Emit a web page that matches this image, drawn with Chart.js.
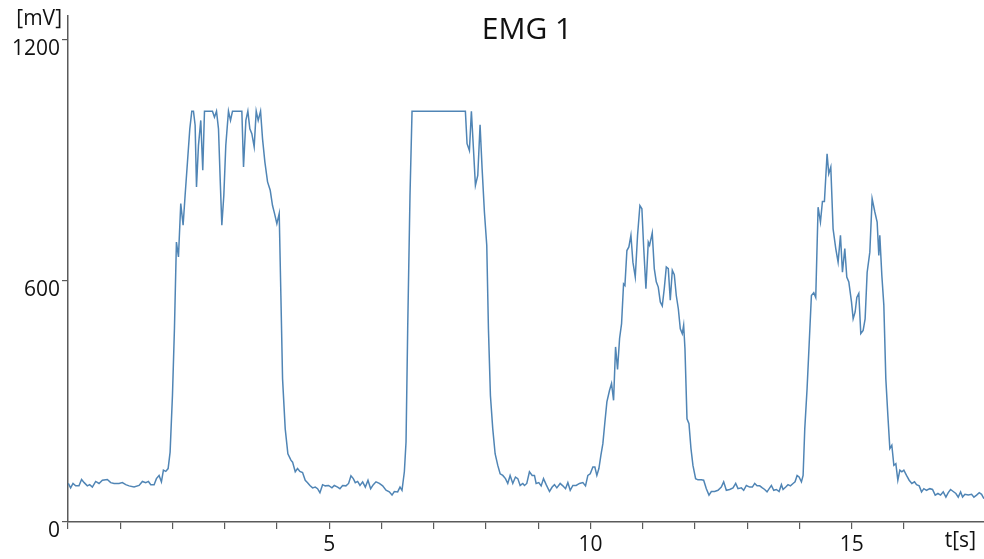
<!DOCTYPE html>
<html>
<head>
<meta charset="utf-8">
<script src="https://cdn.jsdelivr.net/npm/chart.js@4/dist/chart.umd.min.js"></script>
<style>
  body { margin: 0; background: #fff; }
  #wrap { width: 984px; height: 559px; }
</style>
</head>
<body>
<div id="wrap"><canvas id="emgChart" width="984" height="559"></canvas></div>
<script>
// EMG 1 - samples (time in s, amplitude in mV)
const chartTitle = 'EMG 1';
const yUnit = '[mV]';
const xUnit = 't[s]';

const yTicks = [0, 600, 1200];
const xTicks = [0, 1, 2, 3, 4, 5, 6, 7, 8, 9, 10, 11, 12, 13, 14, 15, 16];
const xLabelled = [5, 10, 15];

const timeS = [
  0.006, 0.05, 0.096, 0.147, 0.21, 0.26, 0.31, 0.37, 0.415, 0.466, 0.53, 0.594, 0.658, 0.753, 0.817, 0.881, 0.977,
  1.04, 1.105, 1.169, 1.264, 1.36, 1.424, 1.488, 1.539, 1.584, 1.648, 1.692, 1.743, 1.788, 1.826, 1.871, 1.916, 1.954, 1.999,
  2.037, 2.075, 2.114, 2.158, 2.203, 2.241, 2.286, 2.331, 2.369, 2.401, 2.433, 2.459, 2.497, 2.541, 2.579, 2.612, 2.765, 2.803,
  2.842, 2.880, 2.912, 2.944, 2.982, 3.020, 3.071, 3.110, 3.148, 3.327, 3.359, 3.404, 3.442, 3.480, 3.518, 3.563, 3.602, 3.640,
  3.685, 3.723, 3.768, 3.819, 3.870, 3.914, 3.953, 3.997, 4.042, 4.074, 4.106, 4.157, 4.208, 4.266,
  4.298, 4.349, 4.393, 4.438, 4.489, 4.540, 4.585, 4.630, 4.681, 4.732, 4.776, 4.821, 4.872, 4.923, 4.987, 5.051, 5.096, 5.160,
  5.204, 5.255, 5.319, 5.370, 5.415, 5.460, 5.498, 5.543, 5.588, 5.639, 5.690, 5.741, 5.792, 5.843, 5.894, 5.958, 6.022, 6.086,
  6.149, 6.201, 6.245, 6.309, 6.354, 6.392, 6.437, 6.469, 6.501, 6.545, 6.584, 7.605, 7.637, 7.682, 7.720, 7.759, 7.797, 7.842,
  7.886, 7.925, 7.969, 8.014, 8.046, 8.084, 8.129, 8.174, 8.225, 8.270, 8.321, 8.372, 8.416, 8.461, 8.512, 8.563, 8.608, 8.653, 8.704,
  8.736, 8.780, 8.831, 8.883, 8.927, 8.959, 9.010, 9.055, 9.100, 9.151, 9.215, 9.266, 9.310, 9.355, 9.419, 9.470, 9.521, 9.566,
  9.611, 9.662, 9.725, 9.789, 9.853, 9.904, 9.949, 9.994, 10.045, 10.083, 10.121, 10.160, 10.198, 10.236, 10.275, 10.313, 10.364,
  10.402, 10.441, 10.479, 10.517, 10.556, 10.594, 10.632, 10.658, 10.696, 10.734, 10.773, 10.811, 10.856, 10.900, 10.945, 10.983,
  11.015, 11.060, 11.105, 11.130, 11.181, 11.220, 11.258, 11.296, 11.335, 11.373, 11.411, 11.450, 11.488, 11.526, 11.565, 11.603,
  11.641, 11.680, 11.718, 11.756, 11.782, 11.807, 11.846, 11.884, 11.922, 11.960, 12.011, 12.056, 12.120, 12.165, 12.216, 12.267,
  12.312, 12.375, 12.439, 12.503, 12.548, 12.599, 12.663, 12.727, 12.778, 12.822, 12.886, 12.931, 12.982, 13.046,
  13.097, 13.142, 13.187, 13.238, 13.289, 13.333, 13.378, 13.429, 13.461, 13.506, 13.557, 13.608, 13.653, 13.685, 13.736, 13.780,
  13.825, 13.876, 13.914, 13.953, 13.991, 14.036, 14.068, 14.100, 14.144, 14.183, 14.227, 14.272, 14.310, 14.355, 14.400, 14.438,
  14.476, 14.527, 14.559, 14.598, 14.642, 14.693, 14.738, 14.783, 14.821, 14.866, 14.904, 14.943, 14.994, 15.026, 15.064, 15.096,
  15.134, 15.172, 15.217, 15.255, 15.294, 15.345, 15.389, 15.441, 15.485, 15.517, 15.536, 15.575, 15.613, 15.651, 15.690, 15.728,
  15.766, 15.805, 15.843, 15.881, 15.920, 15.958, 15.996, 16.047, 16.098, 16.149, 16.200, 16.239, 16.290, 16.335, 16.379, 16.430,
  16.494, 16.545, 16.596, 16.648, 16.699, 16.750, 16.801, 16.846, 16.890, 16.941, 16.992, 17.037, 17.082, 17.120, 17.165, 17.229,
  17.293, 17.337, 17.388, 17.439, 17.484, 17.529
];

const emgMv = [
  96, 85, 96, 90, 90, 106, 98, 90, 93, 87, 101, 96, 104, 106, 98, 96, 96,
  98, 93, 90, 87, 91, 101, 98, 101, 93, 93, 108, 116, 100, 129, 126, 133, 174, 315,
  481, 697, 660, 793, 739, 813, 896, 979, 1023, 1023, 988, 834, 938, 1000, 876, 1023, 1023, 1008,
  1023, 979, 855, 739, 813, 938, 1023, 1000, 1023, 1023, 884, 1000, 1023, 979, 967, 934, 1023, 1000,
  1023, 954, 896, 847, 826, 788, 768, 743, 768, 564, 357, 232, 170, 154,
  149, 125, 133, 126, 123, 104, 98, 91, 85, 87, 83, 73, 93, 90, 91, 85, 91, 87,
  83, 91, 90, 96, 115, 108, 98, 101, 91, 100, 87, 104, 83, 93, 100, 96, 90, 79,
  75, 67, 76, 75, 87, 79, 125, 199, 481, 813, 1023, 1023, 942, 925, 1023, 930, 838, 863,
  989, 880, 772, 689, 481, 315, 232, 170, 141, 120, 116, 108, 96, 116, 96, 112, 108, 91, 96,
  91, 96, 125, 116, 116, 96, 98, 90, 108, 93, 76, 87, 93, 85, 96, 90, 83, 98,
  79, 91, 91, 96, 98, 90, 116, 120, 137, 137, 116, 133, 166, 195, 249, 299, 328,
  345, 303, 436, 380, 457, 494, 593, 589, 676, 685, 714, 647, 610, 714, 788, 780,
  689, 581, 697, 689, 720, 631, 598, 585, 548, 538, 581, 635, 631, 552, 627, 616,
  564, 531, 481, 469, 490, 432, 257, 245, 183, 141, 108, 105, 105, 104, 83, 67,
  76, 76, 79, 87, 100, 79, 81, 85, 96, 83, 85, 79, 91, 87,
  87, 96, 90, 90, 85, 81, 75, 85, 91, 79, 81, 76, 93, 81, 87, 93,
  90, 96, 100, 116, 112, 100, 116, 232, 332, 440, 564, 571, 559, 784, 747, 798,
  798, 917, 867, 884, 730, 681, 647, 714, 622, 681, 610, 598, 548, 506, 523, 559,
  569, 469, 477, 506, 622, 672, 805, 772, 747, 664, 714, 614, 540, 357, 266, 183,
  191, 141, 145, 104, 129, 125, 129, 116, 104, 96, 100, 93, 90, 75, 83, 79,
  83, 81, 67, 71, 67, 75, 62, 73, 81, 76, 71, 62, 75, 62, 69, 67,
  69, 62, 67, 73, 69, 58
];

const axisColor = '#5a5a5a';
const lineColor = '#5085b5';
const fontFamily = '"Open Sans", "Noto Sans", sans-serif';

// extra texts: title and unit labels, placed with the scales
const textPlugin = {
  id: 'emgTexts',
  afterDraw(chart) {
    const ctx = chart.ctx;
    const xs = chart.scales.x;
    const ys = chart.scales.y;
    ctx.save();
    ctx.fillStyle = '#111';
    ctx.textBaseline = 'middle';

    ctx.font = '30px ' + fontFamily;
    ctx.textAlign = 'center';
    ctx.fillText(chartTitle, 527, 30);

    ctx.font = '21px ' + fontFamily;
    ctx.textAlign = 'right';
    ctx.fillText(yUnit, ys.right - 6, 19);
    ctx.fillText(xUnit, chart.width - 8, xs.top + 19);
    ctx.restore();
  }
};

const ctx = document.getElementById('emgChart').getContext('2d');
new Chart(ctx, {
  type: 'line',
  data: {
    datasets: [{
      label: chartTitle,
      data: timeS.map((t, i) => ({ x: t, y: emgMv[i] })),
      borderColor: lineColor,
      borderWidth: 1.5,
      pointRadius: 0,
      tension: 0,
      fill: false
    }]
  },
  options: {
    responsive: false,
    animation: false,
    layout: { padding: { top: 16, right: 0, left: 0, bottom: 0 } },
    plugins: {
      legend: { display: false },
      title: { display: false },
      tooltip: { enabled: false }
    },
    scales: {
      x: {
        type: 'linear',
        min: 0,
        max: 17.53,
        afterBuildTicks: (scale) => { scale.ticks = xTicks.map(v => ({ value: v })); },
        afterFit: (scale) => { scale.height = 37; },
        border: { color: axisColor, width: 1.5 },
        grid: { drawOnChartArea: false, drawTicks: true, tickLength: 7, color: axisColor, lineWidth: 1.2 },
        ticks: {
          padding: 3,
          maxRotation: 0,
          autoSkip: false,
          color: '#111',
          font: { family: fontFamily, size: 21 },
          callback: (v) => xLabelled.includes(v) ? String(v) : ''
        }
      },
      y: {
        min: 0,
        max: 1260,
        afterBuildTicks: (scale) => { scale.ticks = yTicks.map(v => ({ value: v })); },
        afterFit: (scale) => { scale.width = 68; },
        border: { color: axisColor, width: 1.5 },
        grid: { drawOnChartArea: false, drawTicks: true, tickLength: 6, color: axisColor, lineWidth: 1.2 },
        ticks: {
          padding: 2,
          labelOffset: 9,
          color: '#111',
          font: { family: fontFamily, size: 21 },
          callback: (v) => String(v)
        }
      }
    }
  },
  plugins: [textPlugin]
});
</script>
</body>
</html>
